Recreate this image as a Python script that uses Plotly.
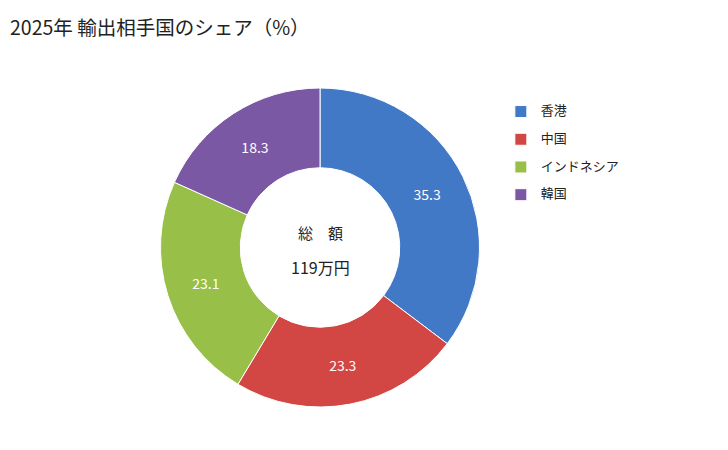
import plotly.graph_objects as go

# data
countries = ["香港", "中国", "インドネシア", "韓国"]
shares = [35.3, 23.3, 23.1, 18.3]
colors = ["#4179c6", "#d24744", "#98bf48", "#7a58a3"]
total_label = "119万円"

font_jp = "Noto Sans CJK JP"

# two-line legend labels (big name + small blank line) to widen the row spacing
legend_labels = ["<span style='font-size:13px'>" + c + "</span><br> " for c in countries]

fig = go.Figure(go.Pie(
    labels=legend_labels,
    values=shares,
    hole=0.5,
    sort=False,
    direction="clockwise",
    rotation=0,
    marker=dict(colors=colors, line=dict(color="white", width=1)),
    texttemplate="%{value:.1f}",
    textposition="inside",
    insidetextorientation="horizontal",
    textfont=dict(color="white", size=14, family=font_jp),
    domain=dict(x=[152/728, 472/728], y=[1 - 399/450, 1 - 80/450]),
))

fig.update_layout(
    width=728, height=450,
    margin=dict(l=0, r=0, t=0, b=0),
    paper_bgcolor="white",
    font=dict(family=font_jp, color="#222"),
    title=dict(text="2025年 輸出相手国のシェア（%）", x=2/728, xanchor="left",
               y=1 - 20/450, yanchor="middle", font=dict(size=19.5, color="#222")),
    legend=dict(x=0.677, y=0.798, xanchor="left", yanchor="top", valign="top",
                font=dict(size=9.5), bgcolor="rgba(0,0,0,0)"),
    annotations=[
        dict(text="総　額", x=312/728, y=1 - 224/450, xref="paper", yref="paper",
             showarrow=False, font=dict(size=15, color="#222")),
        dict(text=total_label, x=312/728, y=1 - 259/450, xref="paper", yref="paper",
             showarrow=False, font=dict(size=16, color="#222")),
    ],
)

fig.write_html("out.html")
